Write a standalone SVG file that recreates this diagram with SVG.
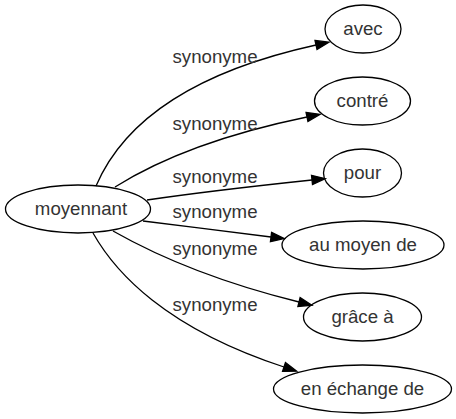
<svg xmlns="http://www.w3.org/2000/svg" width="456" height="419" viewBox="0 0 456 419">
<style>
.n ellipse{fill:none;stroke:#000;stroke-width:1.3}
text{font-family:"Liberation Sans",Arial,sans-serif;font-size:18.67px;fill:#333;text-anchor:middle}
.e path{fill:none;stroke:#000;stroke-width:1.3;marker-end:url(#ah)}
</style>
<defs>
<marker id="ah" markerUnits="userSpaceOnUse" markerWidth="16" markerHeight="12" refX="0" refY="0" viewBox="0 -6 16 12" orient="auto" overflow="visible">
<path d="M0,-4.67 L13.3,0 L0,4.67 z" fill="#000" stroke="#000" stroke-width="1.3"/>
</marker>
</defs>
<rect width="456" height="419" fill="#fff"/>
<g id="edges" class="e">
<path d="M96,186 C120,130 180,75 316,45"/>
<text x="215" y="63">synonyme</text>
<path d="M115,187 C150,165 210,137 307,117"/>
<text x="215" y="130">synonyme</text>
<path d="M147,200 C195,193 255,186 312,180"/>
<text x="215" y="183">synonyme</text>
<path d="M143,221 C185,226 230,232 271,237"/>
<text x="215" y="218">synonyme</text>
<path d="M113,231 C150,252 210,280 299,302"/>
<text x="215" y="255">synonyme</text>
<path d="M93,233 C115,272 165,328 284,367"/>
<text x="215" y="311">synonyme</text>
</g>
<g id="moyennant" class="n"><ellipse cx="78" cy="209" rx="72.5" ry="24"/><text x="81" y="214.5">moyennant</text></g>
<g id="avec" class="n"><ellipse cx="363" cy="29" rx="38" ry="24"/><text x="363" y="35">avec</text></g>
<g id="contre" class="n"><ellipse cx="362.5" cy="101" rx="48" ry="24"/><text x="362.5" y="107">contré</text></g>
<g id="pour" class="n"><ellipse cx="362.5" cy="173" rx="39" ry="24"/><text x="362.5" y="179">pour</text></g>
<g id="au_moyen_de" class="n"><ellipse cx="363" cy="245" rx="81" ry="24"/><text x="363" y="251">au moyen de</text></g>
<g id="grace_a" class="n"><ellipse cx="362.5" cy="317" rx="59" ry="24"/><text x="362.5" y="323">grâce à</text></g>
<g id="en_echange_de" class="n"><ellipse cx="362.5" cy="389" rx="89" ry="24"/><text x="362.5" y="395">en échange de</text></g>
</svg>
